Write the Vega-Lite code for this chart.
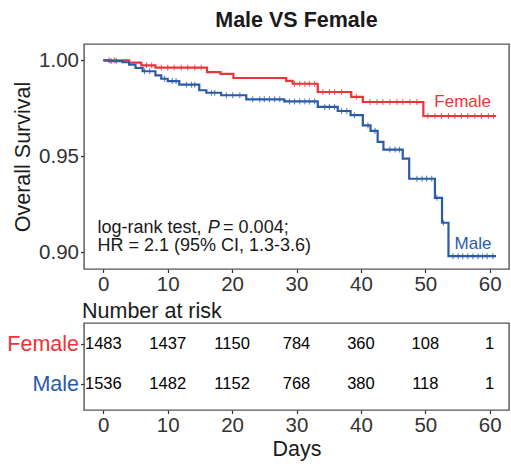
{
  "$schema": "https://vega.github.io/schema/vega-lite/v6.json",
  "background": "white",
  "padding": {"left": 6, "top": 8, "right": 2, "bottom": 4},
  "spacing": 54,
  "bounds": "flush",
  "config": {
    "font": "Liberation Sans",
    "view": {"stroke": "#555555", "strokeWidth": 1.4},
    "axis": {"grid": false, "domain": false, "ticks": true, "tickColor": "#333333", "tickSize": 3.5, "tickWidth": 1.2, "labelColor": "#333333", "labelFont": "Liberation Sans", "labelFontSize": 20.5, "labelPadding": 2, "titleFont": "Liberation Sans", "titleFontSize": 21.5, "titleFontWeight": "normal", "titleColor": "#1a1a1a"}
  },
  "datasets": {
    "curves": [
      {"group": "Female", "time": 0, "surv": 1.0},
      {"group": "Female", "time": 4.0, "surv": 0.9988},
      {"group": "Female", "time": 5.9, "surv": 0.9974},
      {"group": "Female", "time": 8.1, "surv": 0.9962},
      {"group": "Female", "time": 16.1, "surv": 0.9939},
      {"group": "Female", "time": 18.2, "surv": 0.9929},
      {"group": "Female", "time": 20.2, "surv": 0.9908},
      {"group": "Female", "time": 28.4, "surv": 0.9893},
      {"group": "Female", "time": 29.4, "surv": 0.9878},
      {"group": "Female", "time": 33.3, "surv": 0.9835},
      {"group": "Female", "time": 38.5, "surv": 0.981},
      {"group": "Female", "time": 40.3, "surv": 0.9783},
      {"group": "Female", "time": 49.7, "surv": 0.971},
      {"group": "Female", "time": 61.0, "surv": 0.971},
      {"group": "Male", "time": 0, "surv": 1.0},
      {"group": "Male", "time": 0.9, "surv": 0.9996},
      {"group": "Male", "time": 3.0, "surv": 0.999},
      {"group": "Male", "time": 4.0, "surv": 0.9977},
      {"group": "Male", "time": 5.0, "surv": 0.996},
      {"group": "Male", "time": 6.1, "surv": 0.9943},
      {"group": "Male", "time": 8.1, "surv": 0.9922},
      {"group": "Male", "time": 9.0, "surv": 0.9904},
      {"group": "Male", "time": 10.0, "surv": 0.9892},
      {"group": "Male", "time": 11.8, "surv": 0.9873},
      {"group": "Male", "time": 14.9, "surv": 0.9844},
      {"group": "Male", "time": 16.0, "surv": 0.9831},
      {"group": "Male", "time": 18.3, "surv": 0.9818},
      {"group": "Male", "time": 22.2, "surv": 0.9797},
      {"group": "Male", "time": 28.1, "surv": 0.9786},
      {"group": "Male", "time": 33.3, "surv": 0.9757},
      {"group": "Male", "time": 36.4, "surv": 0.9736},
      {"group": "Male", "time": 38.4, "surv": 0.9714},
      {"group": "Male", "time": 40.3, "surv": 0.9661},
      {"group": "Male", "time": 41.5, "surv": 0.9632},
      {"group": "Male", "time": 42.6, "surv": 0.9575},
      {"group": "Male", "time": 43.5, "surv": 0.9535},
      {"group": "Male", "time": 46.5, "surv": 0.9488},
      {"group": "Male", "time": 47.5, "surv": 0.9383},
      {"group": "Male", "time": 51.5, "surv": 0.9284},
      {"group": "Male", "time": 52.6, "surv": 0.9154},
      {"group": "Male", "time": 53.6, "surv": 0.898},
      {"group": "Male", "time": 61.0, "surv": 0.898}
    ],
    "censor": [
      {"group": "Female", "time": 0.9, "surv": 1.0},
      {"group": "Female", "time": 1.7, "surv": 1.0},
      {"group": "Female", "time": 6.7, "surv": 0.9974},
      {"group": "Female", "time": 7.5, "surv": 0.9974},
      {"group": "Female", "time": 9.0, "surv": 0.9962},
      {"group": "Female", "time": 10.0, "surv": 0.9962},
      {"group": "Female", "time": 11.0, "surv": 0.9962},
      {"group": "Female", "time": 12.1, "surv": 0.9962},
      {"group": "Female", "time": 13.1, "surv": 0.9962},
      {"group": "Female", "time": 14.2, "surv": 0.9962},
      {"group": "Female", "time": 15.2, "surv": 0.9962},
      {"group": "Female", "time": 29.7, "surv": 0.9878},
      {"group": "Female", "time": 30.5, "surv": 0.9878},
      {"group": "Female", "time": 31.3, "surv": 0.9878},
      {"group": "Female", "time": 32.0, "surv": 0.9878},
      {"group": "Female", "time": 32.8, "surv": 0.9878},
      {"group": "Female", "time": 34.1, "surv": 0.9835},
      {"group": "Female", "time": 35.1, "surv": 0.9835},
      {"group": "Female", "time": 35.9, "surv": 0.9835},
      {"group": "Female", "time": 37.0, "surv": 0.9835},
      {"group": "Female", "time": 39.3, "surv": 0.981},
      {"group": "Female", "time": 41.4, "surv": 0.9783},
      {"group": "Female", "time": 42.5, "surv": 0.9783},
      {"group": "Female", "time": 43.4, "surv": 0.9783},
      {"group": "Female", "time": 44.5, "surv": 0.9783},
      {"group": "Female", "time": 45.6, "surv": 0.9783},
      {"group": "Female", "time": 46.5, "surv": 0.9783},
      {"group": "Female", "time": 47.6, "surv": 0.9783},
      {"group": "Female", "time": 48.7, "surv": 0.9783},
      {"group": "Female", "time": 50.4, "surv": 0.971},
      {"group": "Female", "time": 51.5, "surv": 0.971},
      {"group": "Female", "time": 52.5, "surv": 0.971},
      {"group": "Female", "time": 53.6, "surv": 0.971},
      {"group": "Female", "time": 54.6, "surv": 0.971},
      {"group": "Female", "time": 55.6, "surv": 0.971},
      {"group": "Female", "time": 56.6, "surv": 0.971},
      {"group": "Female", "time": 57.7, "surv": 0.971},
      {"group": "Female", "time": 58.7, "surv": 0.971},
      {"group": "Female", "time": 59.8, "surv": 0.971},
      {"group": "Female", "time": 60.6, "surv": 0.971},
      {"group": "Male", "time": 1.2, "surv": 0.9996},
      {"group": "Male", "time": 2.0, "surv": 0.9996},
      {"group": "Male", "time": 6.4, "surv": 0.9943},
      {"group": "Male", "time": 7.2, "surv": 0.9943},
      {"group": "Male", "time": 9.5, "surv": 0.9904},
      {"group": "Male", "time": 10.7, "surv": 0.9892},
      {"group": "Male", "time": 11.3, "surv": 0.9892},
      {"group": "Male", "time": 12.9, "surv": 0.9873},
      {"group": "Male", "time": 13.7, "surv": 0.9873},
      {"group": "Male", "time": 14.2, "surv": 0.9873},
      {"group": "Male", "time": 16.8, "surv": 0.9831},
      {"group": "Male", "time": 17.3, "surv": 0.9831},
      {"group": "Male", "time": 19.1, "surv": 0.9818},
      {"group": "Male", "time": 20.1, "surv": 0.9818},
      {"group": "Male", "time": 21.2, "surv": 0.9818},
      {"group": "Male", "time": 23.2, "surv": 0.9797},
      {"group": "Male", "time": 24.3, "surv": 0.9797},
      {"group": "Male", "time": 25.0, "surv": 0.9797},
      {"group": "Male", "time": 25.8, "surv": 0.9797},
      {"group": "Male", "time": 26.6, "surv": 0.9797},
      {"group": "Male", "time": 27.4, "surv": 0.9797},
      {"group": "Male", "time": 28.9, "surv": 0.9786},
      {"group": "Male", "time": 29.7, "surv": 0.9786},
      {"group": "Male", "time": 30.5, "surv": 0.9786},
      {"group": "Male", "time": 31.3, "surv": 0.9786},
      {"group": "Male", "time": 32.0, "surv": 0.9786},
      {"group": "Male", "time": 32.8, "surv": 0.9786},
      {"group": "Male", "time": 34.4, "surv": 0.9757},
      {"group": "Male", "time": 35.1, "surv": 0.9757},
      {"group": "Male", "time": 35.9, "surv": 0.9757},
      {"group": "Male", "time": 37.0, "surv": 0.9736},
      {"group": "Male", "time": 37.8, "surv": 0.9736},
      {"group": "Male", "time": 39.0, "surv": 0.9714},
      {"group": "Male", "time": 41.1, "surv": 0.9661},
      {"group": "Male", "time": 42.2, "surv": 0.9632},
      {"group": "Male", "time": 44.5, "surv": 0.9535},
      {"group": "Male", "time": 45.3, "surv": 0.9535},
      {"group": "Male", "time": 46.0, "surv": 0.9535},
      {"group": "Male", "time": 48.7, "surv": 0.9383},
      {"group": "Male", "time": 49.5, "surv": 0.9383},
      {"group": "Male", "time": 50.2, "surv": 0.9383},
      {"group": "Male", "time": 51.0, "surv": 0.9383},
      {"group": "Male", "time": 51.8, "surv": 0.9284},
      {"group": "Male", "time": 52.8, "surv": 0.9154},
      {"group": "Male", "time": 54.3, "surv": 0.898},
      {"group": "Male", "time": 55.1, "surv": 0.898},
      {"group": "Male", "time": 55.8, "surv": 0.898},
      {"group": "Male", "time": 56.6, "surv": 0.898},
      {"group": "Male", "time": 57.4, "surv": 0.898},
      {"group": "Male", "time": 58.2, "surv": 0.898},
      {"group": "Male", "time": 58.9, "surv": 0.898},
      {"group": "Male", "time": 59.6, "surv": 0.898},
      {"group": "Male", "time": 60.5, "surv": 0.898}
    ],
    "labels": [
      {"group": "Female", "time": 55.8, "surv": 0.9783},
      {"group": "Male", "time": 57.4, "surv": 0.9045}
    ],
    "notes": [
      {"time": -0.9, "surv": 0.9129, "text": "log-rank test,"},
      {"time": 18.6, "surv": 0.9129, "text": "= 0.004;"},
      {"time": -0.9, "surv": 0.9032, "text": "HR = 2.1 (95% CI, 1.3-3.6)"}
    ],
    "italic": [
      {"time": 16.2, "surv": 0.9129, "text": "P"}
    ],
    "risk": [
      {"group": "Female", "time": 0, "n": 1483},
      {"group": "Female", "time": 10, "n": 1437},
      {"group": "Female", "time": 20, "n": 1150},
      {"group": "Female", "time": 30, "n": 784},
      {"group": "Female", "time": 40, "n": 360},
      {"group": "Female", "time": 50, "n": 108},
      {"group": "Female", "time": 60, "n": 1},
      {"group": "Male", "time": 0, "n": 1536},
      {"group": "Male", "time": 10, "n": 1482},
      {"group": "Male", "time": 20, "n": 1152},
      {"group": "Male", "time": 30, "n": 768},
      {"group": "Male", "time": 40, "n": 380},
      {"group": "Male", "time": 50, "n": 118},
      {"group": "Male", "time": 60, "n": 1}
    ]
  },
  "vconcat": [
    {
      "width": 425,
      "height": 225,
      "title": {"text": "Male VS Female", "font": "Liberation Sans", "fontSize": 21.5, "fontWeight": "bold", "color": "#1a1a1a", "anchor": "middle", "offset": 13},
      "layer": [
        {
          "data": {"name": "curves"},
          "mark": {"type": "line", "interpolate": "step-after", "strokeWidth": 2.2},
          "encoding": {
            "x": {"field": "time", "type": "quantitative", "scale": {"domain": [-3, 63], "nice": false, "zero": false}, "axis": {"values": [0, 10, 20, 30, 40, 50, 60], "title": null}},
            "y": {"field": "surv", "type": "quantitative", "scale": {"domain": [0.8913, 1.0085], "nice": false, "zero": false}, "axis": {"values": [0.9, 0.95, 1.0], "format": ".2f", "title": "Overall Survival", "titlePadding": 4}},
            "color": {"field": "group", "type": "nominal", "scale": {"domain": ["Female", "Male"], "range": ["#EE3338", "#2A5BA8"]}, "legend": null}
          }
        },
        {
          "data": {"name": "censor"},
          "mark": {"type": "tick", "orient": "vertical", "size": 6, "thickness": 1.1, "opacity": 0.75},
          "encoding": {
            "x": {"field": "time", "type": "quantitative"},
            "y": {"field": "surv", "type": "quantitative"},
            "color": {"field": "group", "type": "nominal", "legend": null}
          }
        },
        {
          "data": {"name": "labels"},
          "mark": {"type": "text", "fontSize": 17, "font": "Liberation Sans", "align": "center", "baseline": "middle"},
          "encoding": {
            "x": {"field": "time", "type": "quantitative"},
            "y": {"field": "surv", "type": "quantitative"},
            "text": {"field": "group"},
            "color": {"field": "group", "type": "nominal", "legend": null}
          }
        },
        {
          "data": {"name": "notes"},
          "mark": {"type": "text", "fontSize": 18, "font": "Liberation Sans", "align": "left", "baseline": "middle", "color": "#1a1a1a"},
          "encoding": {
            "x": {"field": "time", "type": "quantitative"},
            "y": {"field": "surv", "type": "quantitative"},
            "text": {"field": "text"}
          }
        },
        {
          "data": {"name": "italic"},
          "mark": {"type": "text", "fontSize": 18, "font": "Liberation Sans", "fontStyle": "italic", "align": "left", "baseline": "middle", "color": "#1a1a1a"},
          "encoding": {
            "x": {"field": "time", "type": "quantitative"},
            "y": {"field": "surv", "type": "quantitative"},
            "text": {"field": "text"}
          }
        }
      ]
    },
    {
      "width": 425,
      "height": 87,
      "title": {"text": "Number at risk", "font": "Liberation Sans", "fontSize": 21.5, "fontWeight": "normal", "color": "#1a1a1a", "anchor": "start", "frame": "group", "offset": 1, "dx": -2},
      "data": {"name": "risk"},
      "mark": {"type": "text", "fontSize": 16.5, "font": "Liberation Sans", "color": "black", "align": "center", "baseline": "middle"},
      "encoding": {
        "x": {"field": "time", "type": "quantitative", "scale": {"domain": [-3, 63], "nice": false, "zero": false}, "axis": {"values": [0, 10, 20, 30, 40, 50, 60], "title": "Days", "titlePadding": 2}},
        "y": {"field": "group", "type": "ordinal", "scale": {"domain": ["Female", "Male"], "padding": 0.5875, "align": 0.447}, "axis": {"title": null, "labelFontSize": 21.5, "labelColor": {"condition": {"test": "datum.value == 'Female'", "value": "#EE3338"}, "value": "#2A5BA8"}}},
        "text": {"field": "n", "type": "quantitative"}
      }
    }
  ]
}
